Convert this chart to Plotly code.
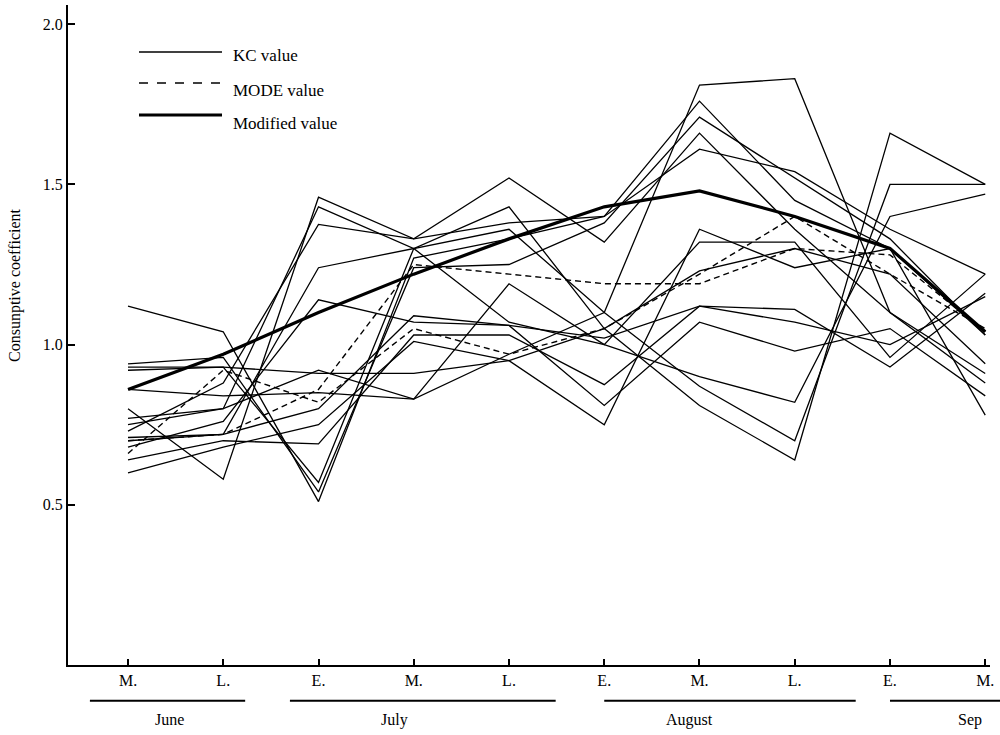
import plotly.graph_objects as go

# ---- data -------------------------------------------------------------
tick_labels = ["M.", "L.", "E.", "M.", "L.", "E.", "M.", "L.", "E.", "M."]
x_idx = list(range(1, 11))

months = ["June", "July", "August", "Sep"]
month_start = [0.6, 2.7, 6.0, 9.0]
month_end = [2.23, 5.49, 8.64, 10.16]
month_center = [1.44, 3.8, 6.9, 9.84]

kc_values = [
    [1.12, 1.04, 0.51, 1.27, 1.33, 1.40, 1.76, 1.45, 1.30, 1.03],
    [0.94, 0.96, 0.54, 1.24, 1.25, 1.38, 1.71, 1.52, 1.33, 1.03],
    [0.92, 0.93, 0.57, 1.30, 1.36, 1.10, 0.87, 0.70, 1.50, 1.50],
    [0.80, 0.58, 1.46, 1.33, 1.52, 1.32, 1.66, 1.36, 1.10, 0.91],
    [0.77, 0.80, 1.43, 1.30, 1.43, 1.05, 0.81, 0.64, 1.66, 1.50],
    [0.73, 0.88, 1.375, 1.33, 1.38, 1.40, 1.61, 1.54, 1.36, 1.22],
    [0.71, 0.72, 1.24, 1.30, 1.07, 1.00, 0.90, 0.82, 1.40, 1.47],
    [0.68, 0.76, 1.14, 1.07, 1.06, 0.81, 1.07, 0.98, 1.05, 0.84],
    [0.64, 0.70, 0.69, 1.03, 1.03, 0.875, 1.12, 1.11, 0.93, 1.16],
    [0.60, 0.68, 0.75, 1.01, 0.95, 0.75, 1.36, 1.24, 1.30, 0.78],
    [0.86, 0.84, 0.85, 0.83, 1.19, 1.00, 1.32, 1.32, 0.96, 1.22],
    [0.93, 0.93, 0.91, 0.91, 0.95, 1.05, 1.23, 1.30, 1.22, 0.94],
    [0.70, 0.72, 0.80, 1.09, 1.06, 1.02, 1.12, 1.07, 1.00, 1.15],
    [0.75, 0.80, 0.92, 0.83, 0.97, 1.10, 1.81, 1.83, 1.10, 0.88],
]
mode_values = [
    [0.70, 0.72, 0.86, 1.25, 1.22, 1.19, 1.19, 1.30, 1.28, 1.04],
    [0.66, 0.92, 0.82, 1.05, 0.97, 1.05, 1.22, 1.40, 1.22, 1.05],
]
modified_values = [0.86, 0.97, 1.10, 1.22, 1.33, 1.43, 1.48, 1.40, 1.30, 1.04]

y_ticks = [0.5, 1.0, 1.5, 2.0]
y_tick_text = ["0.5", "1.0", "1.5", "2.0"]

# ---- figure -----------------------------------------------------------
FONT = "Liberation Serif"
XR = [0.37, 10.05]
YR = [0, 2.06]

fig = go.Figure()
for ys in kc_values:
    fig.add_trace(go.Scatter(x=x_idx, y=ys, mode="lines",
                             line=dict(color="black", width=1.3),
                             showlegend=False, hoverinfo="skip"))
for ys in mode_values:
    fig.add_trace(go.Scatter(x=x_idx, y=ys, mode="lines",
                             line=dict(color="black", width=1.4, dash="6px,4px"),
                             showlegend=False, hoverinfo="skip"))
fig.add_trace(go.Scatter(x=x_idx, y=modified_values, mode="lines",
                         line=dict(color="black", width=3.2),
                         showlegend=False, hoverinfo="skip"))

def xp(v):
    return (v - XR[0]) / (XR[1] - XR[0])

shapes = []
annotations = []
# month underlines and labels
for name, s, e, c in zip(months, month_start, month_end, month_center):
    shapes.append(dict(type="line", xref="paper", yref="paper",
                       x0=xp(s), x1=xp(e), y0=-0.054, y1=-0.054,
                       line=dict(color="black", width=2)))
    annotations.append(dict(text=name, xref="paper", yref="paper",
                            x=xp(c), y=-0.066, showarrow=False,
                            xanchor="center", yanchor="top",
                            font=dict(family=FONT, size=16, color="black")))

# custom legend
PW, PH = 922.0, 660.0
def px(xpix):
    return (xpix - 68) / PW
def py(ypix):
    return (665 - ypix) / PH

legend_items = [("KC value", "solid", 1.3, 52, 55),
                ("MODE value", "dash", 1.4, 83, 90),
                ("Modified value", "solid", 3.2, 115, 123)]
for text, dash, w, ly, ty in legend_items:
    shapes.append(dict(type="line", xref="paper", yref="paper",
                       x0=px(139), x1=px(222), y0=py(ly), y1=py(ly),
                       line=dict(color="black", width=w, dash=dash)))
    annotations.append(dict(text=text, xref="paper", yref="paper",
                            x=px(231), y=py(ty), showarrow=False,
                            xanchor="left", yanchor="middle",
                            font=dict(family=FONT, size=17, color="black")))

annotations.append(dict(text="Consunptive coefficient", xref="paper", yref="paper",
                        x=px(15), y=py(285), showarrow=False, textangle=-90,
                        xanchor="center", yanchor="middle",
                        font=dict(family=FONT, size=16, color="black")))

fig.update_layout(
    width=1000, height=735,
    margin=dict(l=68, r=10, t=5, b=70),
    paper_bgcolor="white", plot_bgcolor="white",
    font=dict(family=FONT, color="black", size=15),
    shapes=shapes, annotations=annotations,
    xaxis=dict(range=XR, tickvals=x_idx, ticktext=tick_labels,
               ticks="inside", ticklen=6, tickwidth=1.5, tickcolor="black",
               showline=True, linecolor="black", linewidth=2,
               showgrid=False, zeroline=False,
               tickfont=dict(family=FONT, size=16)),
    yaxis=dict(range=YR, tickvals=y_ticks, ticktext=y_tick_text,
               ticks="inside", ticklen=7, tickwidth=1.5, tickcolor="black",
               showline=True, linecolor="black", linewidth=2,
               showgrid=False, zeroline=False,
               tickfont=dict(family=FONT, size=16)),
)

fig.write_html("out.html", config={"displayModeBar": False},
               post_script="document.body.style.margin='0';document.body.style.overflow='hidden';")
